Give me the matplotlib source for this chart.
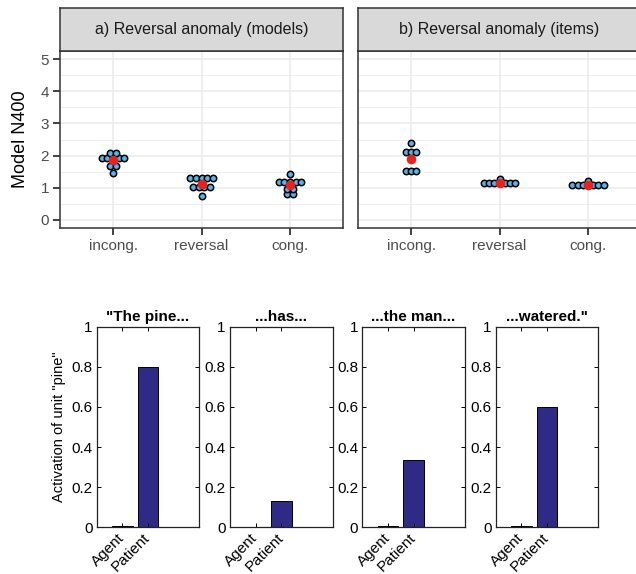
import numpy as np
import matplotlib
matplotlib.use("Agg")
import matplotlib.pyplot as plt

plt.rcParams["font.family"] = ["Liberation Sans", "DejaVu Sans"]

# --- top panels: model N400 per condition (dot plots) ---
CONDITIONS = ["incong.", "reversal", "cong."]

models_incong = [2.09, 2.09, 1.93, 1.93, 1.93, 1.93, 1.93, 1.68, 1.68, 1.47]
models_reversal = [1.29, 1.29, 1.29, 1.29, 1.29, 1.03, 1.03, 1.03, 1.03, 0.75]
models_cong = [1.43, 1.18, 1.18, 1.18, 1.18, 1.18, 0.97, 0.97, 0.80, 0.80]

items_incong = [2.39, 2.12, 2.12, 2.12, 1.53, 1.53, 1.53]
items_reversal = [1.26, 1.14, 1.14, 1.14, 1.14, 1.14, 1.14, 1.14]
items_cong = [1.22, 1.08, 1.08, 1.08, 1.08, 1.08, 1.08, 1.08]

TOP_PANELS = [
    ("a) Reversal anomaly (models)", [models_incong, models_reversal, models_cong]),
    ("b) Reversal anomaly (items)", [items_incong, items_reversal, items_cong]),
]

# --- bottom panels: activation of unit "pine" ---
BAR_TITLES = ['"The pine...', "...has...", "...the man...", '...watered."']
BAR_LABELS = ["Agent", "Patient"]
agent_act = [0.005, 0.0, 0.005, 0.005]
patient_act = [0.80, 0.13, 0.335, 0.60]

DOT_FILL = "#56B4E9"
MEAN_RED = "#E8231F"
BAR_COLOR = "#2E2A86"
GRID = "#EBEBEB"
DARK = "#333333"

W, H = 636, 574
fig = plt.figure(figsize=(W / 100, H / 100), dpi=100)


def fig_rect(x0, y0, x1, y1):
    # pixel box (top-left origin) -> figure fraction rect
    return [x0 / W, 1 - y1 / H, (x1 - x0) / W, (y1 - y0) / H]


def draw_dots(ax, x, values, spacing):
    vals, counts = np.unique(values, return_counts=True)
    for v, n in zip(vals, counts):
        offs = (np.arange(n) - (n - 1) / 2) * spacing
        ax.scatter(x + offs, np.full(n, v), s=21, c=DOT_FILL,
                   edgecolors="black", linewidths=1.1, zorder=3)
    ax.scatter([x], [np.mean(values)], s=48, c=MEAN_RED, zorder=4,
               linewidths=0)


top_boxes = [(60, 51, 343, 228), (358, 51, 641, 228)]
for i, ((title, groups), box) in enumerate(zip(TOP_PANELS, top_boxes)):
    ax = fig.add_axes(fig_rect(*box))
    x0, y0, x1, y1 = box
    strip = fig.add_axes(fig_rect(x0, 8, x1, y0))
    strip.set_facecolor("#D9D9D9")
    strip.set_xticks([])
    strip.set_yticks([])
    for sp in strip.spines.values():
        sp.set_color(DARK)
        sp.set_linewidth(1.1)
    strip.text(0.5, 0.5, title, ha="center", va="center", fontsize=11.5,
               color="#1A1A1A", transform=strip.transAxes)

    for k, vals in enumerate(groups):
        draw_dots(ax, k + 1, vals, 0.064 if i == 0 else 0.059)

    ax.set_xlim(0.4, 3.6)
    ax.set_ylim(-0.25, 5.25)
    ax.set_xticks([1, 2, 3])
    ax.set_xticklabels(CONDITIONS)
    ax.set_yticks(range(6))
    ax.set_yticks(np.arange(0.5, 5, 1), minor=True)
    ax.grid(True, which="major", color=GRID, linewidth=1.1, zorder=0)
    ax.grid(True, which="minor", axis="y", color=GRID, linewidth=0.6, zorder=0)
    ax.set_axisbelow(True)
    ax.tick_params(which="major", length=5, width=1.3, color=DARK,
                   labelsize=11, labelcolor="#4D4D4D", pad=3)
    ax.tick_params(which="minor", length=0)
    for sp in ax.spines.values():
        sp.set_color(DARK)
        sp.set_linewidth(1.1)
    if i == 0:
        ax.set_ylabel("Model N400", fontsize=13, labelpad=8)
    else:
        ax.tick_params(axis="y", left=False, labelleft=False)

bar_lefts = [96.7, 230, 362.3, 495.7]
x = np.arange(1, 3)
for i, left in enumerate(bar_lefts):
    ax = fig.add_axes(fig_rect(left, 326.7, left + 102.6, 527.3))
    ax.bar(x, [agent_act[i], patient_act[i]], width=0.8, color=BAR_COLOR,
           edgecolor="black", linewidth=0.7)
    ax.set_xlim(0, 4)
    ax.set_ylim(0, 1)
    ax.set_yticks([0, 0.2, 0.4, 0.6, 0.8, 1])
    ax.set_yticklabels(["0", "0.2", "0.4", "0.6", "0.8", "1"])
    ax.set_xticks(x)
    ax.set_xticklabels(BAR_LABELS, rotation=45, ha="right", va="center",
                       rotation_mode="anchor")
    ax.tick_params(direction="in", top=True, right=True, length=3,
                   width=0.7, labelsize=11, pad=3)
    ax.tick_params(axis="x", pad=6)
    for sp in ax.spines.values():
        sp.set_color("#222222")
        sp.set_linewidth(0.9)
    ax.set_title(BAR_TITLES[i], fontsize=11, fontweight="bold", pad=4)
    if i == 0:
        ax.set_ylabel('Activation of unit "pine"', fontsize=10.5, labelpad=4)

fig.savefig("out.png", dpi=100)
